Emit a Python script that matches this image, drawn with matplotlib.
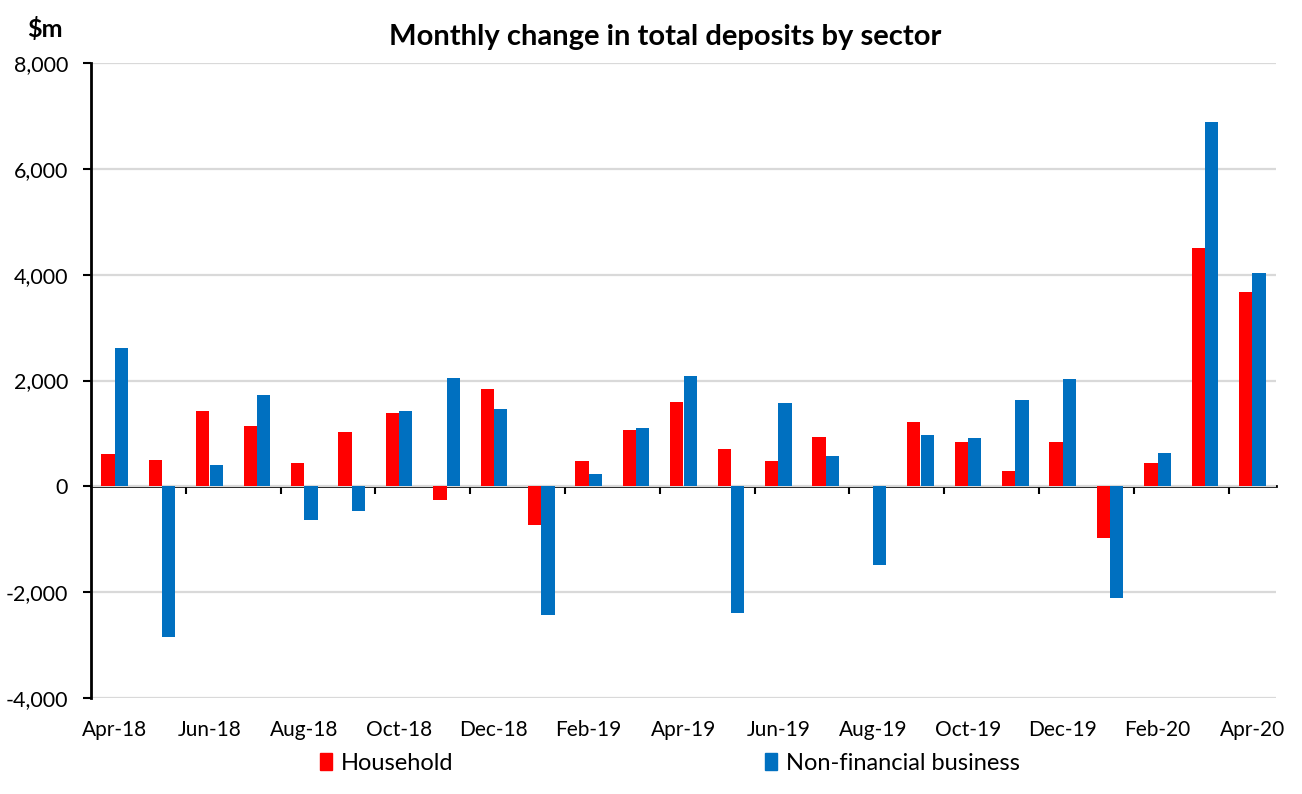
import matplotlib.pyplot as plt
import numpy as np
from matplotlib.patches import Patch
from matplotlib.ticker import FuncFormatter

# ---------------- DATA ----------------
months = ["Apr-18", "May-18", "Jun-18", "Jul-18", "Aug-18", "Sep-18", "Oct-18",
          "Nov-18", "Dec-18", "Jan-19", "Feb-19", "Mar-19", "Apr-19", "May-19",
          "Jun-19", "Jul-19", "Aug-19", "Sep-19", "Oct-19", "Nov-19", "Dec-19",
          "Jan-20", "Feb-20", "Mar-20", "Apr-20"]
household = [610, 490, 1430, 1140, 450, 1020, 1380, -250, 1830, -730, 470, 1060,
             1590, 710, 480, 930, 10, 1210, 840, 290, 840, -970, 450, 4510, 3680]
business = [2610, -2850, 410, 1720, -630, -470, 1420, 2040, 1470, -2430, 230, 1110,
            2080, -2390, 1570, 580, -1480, 970, 920, 1640, 2030, -2110, 630, 6890, 4040]
label_every = 2

RED = "#FF0000"
BLUE = "#0070C0"
FONT = ["Lato", "DejaVu Sans"]

plt.rcParams["font.family"] = FONT

fig = plt.figure(figsize=(13.02, 7.94), dpi=100)
ax = fig.add_axes([91 / 1302, 1 - 698 / 794, (1276 - 91) / 1302, (698 - 63) / 794])

x = np.arange(len(months))
w = 0.28
ax.bar(x - w / 2, household, width=w, color=RED, zorder=3)
ax.bar(x + w / 2, business, width=w, color=BLUE, zorder=3)

ymin, ymax = -4000, 8000
ax.set_ylim(ymin, ymax)
ax.set_xlim(-0.5, len(months) - 0.5)
ax.set_yticks(np.arange(ymin, ymax + 1, 2000))
ax.yaxis.set_major_formatter(FuncFormatter(lambda v, p: f"{v:,.0f}"))
ax.grid(axis="y", color="#D9D9D9", linewidth=1.6, zorder=0)
ax.tick_params(axis="y", length=5.5, width=1.5, pad=11, labelsize=15.5)

# category labels at the bottom
ax.set_xticks(x[::label_every])
ax.set_xticklabels(months[::label_every])
ax.tick_params(axis="x", length=0, pad=16, labelsize=15)

for s in ["top", "right", "bottom"]:
    ax.spines[s].set_visible(False)
ax.spines["left"].set_linewidth(2)

# zero line with tick marks between categories
zero_loc = (0 - ymin) / (ymax - ymin)
sec = ax.secondary_xaxis(zero_loc)
sec.set_xticks(np.arange(-0.5, len(months) - 1, label_every)[1:])
sec.set_xticklabels([])
sec.tick_params(axis="x", length=5.5, width=1.5, direction="out")
sec.spines["bottom"].set_linewidth(2)

fig.text(665 / 1302, 1 - 37 / 794, "Monthly change in total deposits by sector",
         ha="center", va="center", fontsize=21, fontweight="bold")
fig.text(45 / 1302, 1 - 29 / 794, "$m", ha="center", va="center",
         fontsize=18, fontweight="bold")

handles = [Patch(color=RED, label="Household"),
           Patch(color=BLUE, label="Non-financial business")]
fig.legend(handles=handles, loc="center", bbox_to_anchor=(670 / 1302, 1 - 763 / 794),
           ncol=2, frameon=False, fontsize=17, handlelength=0.5, handleheight=0.75,
           handletextpad=0.38, columnspacing=13.2)

fig.savefig("out.png", dpi=100)
